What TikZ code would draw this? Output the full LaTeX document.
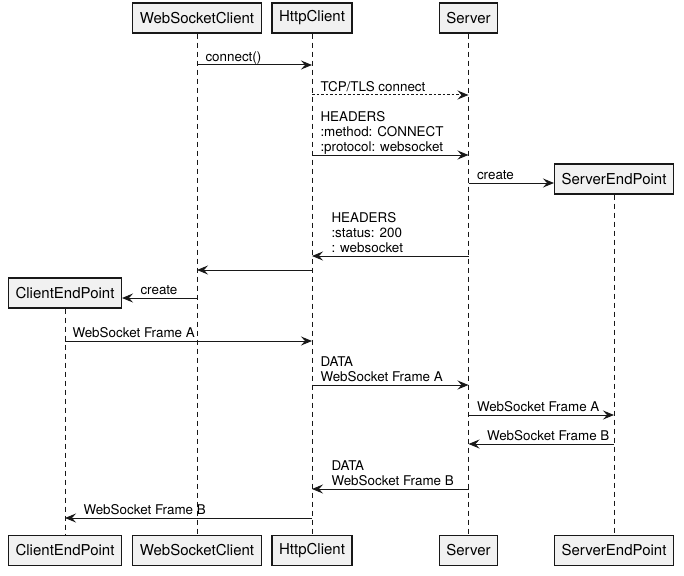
\documentclass[tikz,border=0pt]{standalone}
\usepackage{fontspec}
\setmainfont{TeX Gyre Heros}
\usetikzlibrary{arrows.meta}
\definecolor{umlline}{HTML}{181818}
\definecolor{umlfill}{HTML}{F1F1F1}
\tikzset{
  part/.style={draw=umlline,fill=umlfill,line width=1.2pt,minimum height=30pt,
    inner xsep=7pt,font=\fontsize{15}{17}\selectfont},
  lifeline/.style={draw=umlline,line width=0.8pt,dash pattern=on 5pt off 4pt},
  msg/.style={draw=umlline,line width=1pt,-{Stealth[length=11pt,width=9pt,inset=4pt]}},
  msgdash/.style={msg,dash pattern=on 2.5pt off 2pt},
  lbl/.style={anchor=south west,inner sep=0pt,align=left,
    font=\fontsize{13.4}{14.8}\selectfont,execute at end node=\strut},
}
\begin{document}
\begin{tikzpicture}[x=1pt,y=-1pt]
\useasboundingbox (0,0) rectangle (684,575);

\node [part] (wsc) at (197,18) {WebSocketClient};
\node [part] (hc) at (312,18) {HttpClient};
\node [part] (srv) at (468.5,18) {Server};
\node [part] (sep) at (614,179) {ServerEndPoint};
\node [part] (cep) at (65,293) {ClientEndPoint};

\node [part] (cepb) at (65,550.5) {ClientEndPoint};
\node [part] (wscb) at (197,550.5) {WebSocketClient};
\node [part] (hcb) at (312,550.5) {HttpClient};
\node [part] (srvb) at (468.5,550.5) {Server};
\node [part] (sepb) at (614,550.5) {ServerEndPoint};

\path [lifeline] (wsc) -- (wscb);
\path [lifeline] (hc) -- (hcb);
\path [lifeline] (srv) -- (srvb);
\path [lifeline] (sep) -- (sepb);
\path [lifeline] (cep) -- (cepb);

\foreach \n/\y in {1/65,2/95,3/155,4/183,5/256,6/270,7/298,8/341,9/385,10/415,11/444,12/489,13/518}
  \coordinate (r\n) at (0,\y);

\path [msg] (wsc |- r1) -- (hc |- r1) node[lbl,pos=0,xshift=8pt,yshift=-1pt]{connect()};
\path [msgdash] (hc |- r2) -- (srv |- r2) node[lbl,pos=0,xshift=8pt,yshift=-1pt]{TCP/TLS connect};
\path [msg] (hc |- r3) -- (srv |- r3) node[lbl,pos=0,xshift=8pt,yshift=-1pt]{HEADERS\\:method: CONNECT\\:protocol: websocket};
\path [msg] (srv |- r4) -- (sep.west |- r4) node[lbl,pos=0,xshift=8pt,yshift=-1pt]{create};
\path [msg] (srv |- r5) -- (hc |- r5) node[lbl,pos=1,xshift=19pt,yshift=-1pt]{HEADERS\\:status: 200\\: websocket};
\path [msg] (hc |- r6) -- (wsc |- r6);
\path [msg] (wsc |- r7) -- (cep.east |- r7) node[lbl,pos=1,xshift=18pt,yshift=-1pt]{create};
\path [msg] (cep |- r8) -- (hc |- r8) node[lbl,pos=0,xshift=7pt,yshift=-1pt]{WebSocket Frame A};
\path [msg] (hc |- r9) -- (srv |- r9) node[lbl,pos=0,xshift=8pt,yshift=-1pt]{DATA\\WebSocket Frame A};
\path [msg] (srv |- r10) -- (sep |- r10) node[lbl,pos=0,xshift=8pt,yshift=-1pt]{WebSocket Frame A};
\path [msg] (sep |- r11) -- (srv |- r11) node[lbl,pos=1,xshift=18pt,yshift=-1pt]{WebSocket Frame B};
\path [msg] (srv |- r12) -- (hc |- r12) node[lbl,pos=1,xshift=19pt,yshift=-1pt]{DATA\\WebSocket Frame B};
\path [msg] (hc |- r13) -- (cep |- r13) node[lbl,pos=1,xshift=18pt,yshift=-1pt]{WebSocket Frame B};

\end{tikzpicture}
\end{document}
